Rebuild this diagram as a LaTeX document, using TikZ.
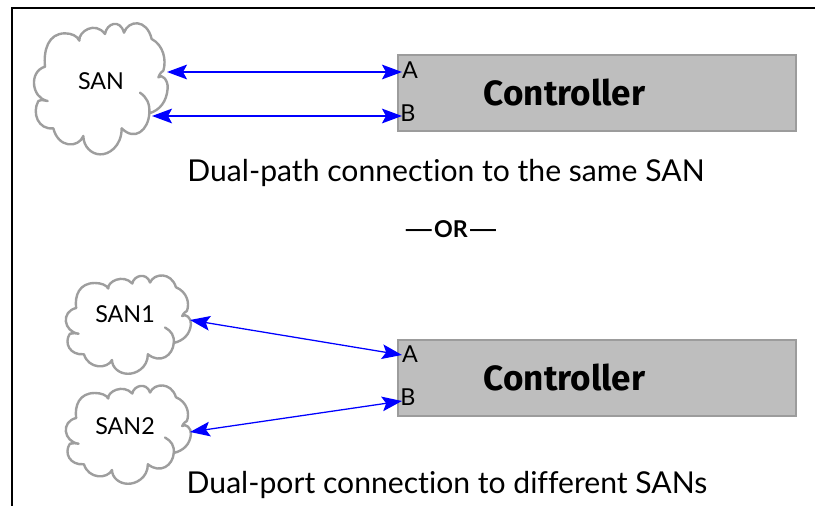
\documentclass[tikz,border=0pt]{standalone}
\usepackage{fontspec}
\setmainfont[Ligatures=NoCommon]{Lato}
\newfontfamily\ctrlfont{Fira Sans}
\usetikzlibrary{arrows.meta}
\definecolor{cloudgray}{HTML}{9E9E9E}
\definecolor{boxfill}{HTML}{BEBEBE}
\definecolor{boxedge}{HTML}{9C9C9C}
\newcommand{\cloudshape}{%
  \draw[cloudline]
    (135,200) .. controls (130,150) and (145,100) .. (195,100)
    .. controls (215,100) and (232,108) .. (238,122)
    .. controls (235,95) and (285,62) .. (315,102)
    .. controls (320,70) and (360,55) .. (372,98)
    .. controls (385,60) and (440,55) .. (455,117)
    .. controls (490,135) and (500,180) .. (490,212)
    .. controls (478,220) and (478,228) .. (475,232)
    .. controls (485,220) and (505,240) .. (503,265)
    .. controls (500,305) and (480,330) .. (448,340)
    .. controls (450,310) and (440,292) .. (420,278);
  \draw[cloudline]
    (448,340) .. controls (445,390) and (405,425) .. (365,385)
    .. controls (365,440) and (325,465) .. (300,463)
    .. controls (275,463) and (250,440) .. (250,408)
    .. controls (235,445) and (175,445) .. (160,385)
    .. controls (115,390) and (95,340) .. (115,303)
    .. controls (125,298) and (135,302) .. (143,303)
    .. controls (95,295) and (85,215) .. (135,200);
}
\newcommand{\longdash}{\scalebox{1.65}[1]{—}}
\tikzset{
  cloudline/.style={draw=cloudgray,line width=1.8pt,line cap=round,line join=round},
  ctrlbox/.style={draw=boxedge,fill=boxfill,line width=1.7pt,minimum width=298.5pt,minimum height=57.5pt,inner sep=0pt},
  ctrltext/.style={font=\ctrlfont\bfseries\fontsize{26.3}{30}\selectfont,inner sep=0pt},
  portlabel/.style={font=\fontsize{17.5}{20}\selectfont,inner sep=0pt},
  sanlabel/.style={font=\fontsize{17.5}{20}\selectfont,inner sep=0pt},
  caption/.style={font=\fontsize{22.6}{26}\selectfont,inner sep=0pt},
  orlabel/.style={font=\bfseries\fontsize{17.4}{20}\selectfont,inner sep=0pt},
  linkthick/.style={draw=blue,line width=1.4pt,{Stealth[length=15pt,width=11pt,inset=3pt]}-{Stealth[length=15pt,width=11pt,inset=3pt]}},
  linkthin/.style={draw=blue,line width=0.95pt,{Stealth[length=15pt,width=11pt,inset=3pt]}-{Stealth[length=15pt,width=11pt,inset=3pt]}},
}
\begin{document}
\begin{tikzpicture}[x=0.75pt,y=-0.75pt]
\useasboundingbox (0,0) rectangle (815,506);
\draw[black,line width=2pt] (12,506) -- (12,8) -- (815,8);

\begin{scope}[xscale=1/3,yscale=1/3]\cloudshape\end{scope}
\begin{scope}[shift={(34,258)},xscale=.312,yscale=.25]\cloudshape\end{scope}
\begin{scope}[shift={(34,368)},xscale=.312,yscale=.25]\cloudshape\end{scope}

\node[sanlabel] (san) at (101,81) {SAN};
\node[sanlabel] (san1) at (125,314) {SAN1};
\node[sanlabel] (san2) at (125,426) {SAN2};

\node[ctrlbox] (c1) at (597,93) {};
\node[ctrlbox] (c2) at (597,378) {};
\node[ctrltext] (c1t) at (564.5,92) {Controller};
\node[ctrltext] (c2t) at (564.5,377) {Controller};

\node[portlabel] (a1) at (410,70.5) {A};
\node[portlabel] (b1) at (408,113) {B};
\node[portlabel] (a2) at (410,354.5) {A};
\node[portlabel] (b2) at (408,397.5) {B};

\coordinate (s1) at (167,72);
\coordinate (s2) at (152,116);
\coordinate (s3) at (190,320);
\coordinate (s4) at (190,432);
\coordinate (p1) at (402,72);
\coordinate (p2) at (402,116);
\coordinate (p3) at (402,355);
\coordinate (p4) at (402,401);

\draw[linkthick] (s1) -- (p1);
\draw[linkthick] (s2) -- (p2);
\draw[linkthin] (s3) -- (p3);
\draw[linkthin] (s4) -- (p4);

\node[caption] (cap1) at (446,173) {Dual-path connection to the same SAN};
\node[orlabel] (or) at (451,229) {\longdash OR\longdash};
\node[caption] (cap2) at (447,485) {Dual-port connection to different SANs};
\end{tikzpicture}
\end{document}
